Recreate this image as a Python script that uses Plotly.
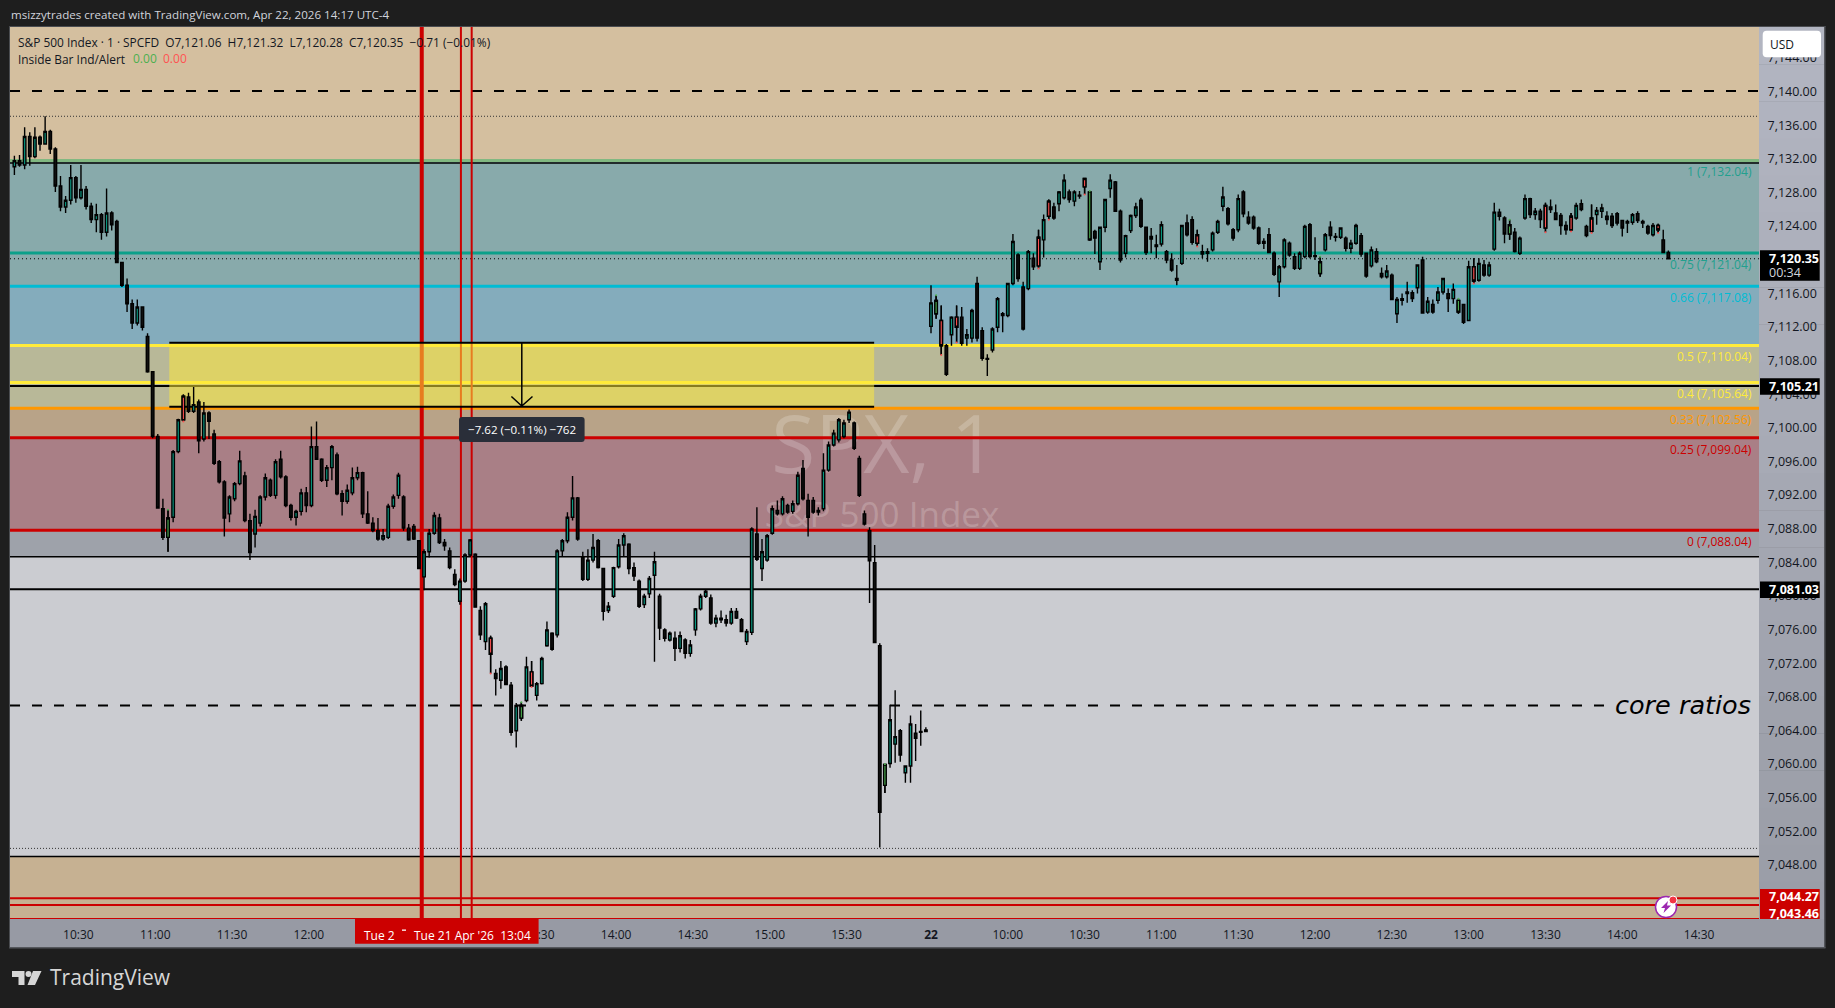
import plotly.graph_objects as go

# candle rows, one every 2 minutes, values in points above 7000
day1_idx = list(range(2, 360, 2))
day1_open = [
    131.3,132.0,131.5,134.9,132.5,134.8,134.0,135.5,133.4,129.0,
    126.5,127.3,130.0,127.6,128.6,126.6,125.0,125.6,123.5,125.8,
    124.8,119.9,117.2,115.0,112.7,114.6,111.1,106.9,99.2,90.6,
    87.2,89.6,97.4,101.2,103.9,102.2,103.3,98.9,102.0,99.5,
    96.2,93.8,90.0,91.8,93.6,94.5,89.2,87.6,88.9,92.0,
    94.0,92.2,96.5,94.4,91.0,89.6,90.3,92.5,91.0,98.0,
    96.5,94.0,95.5,97.0,92.4,91.5,92.5,94.3,94.9,90.0,
    88.9,88.0,87.0,87.2,90.9,92.2,92.0,88.3,88.5,86.8,
    82.5,85.5,87.7,89.5,86.6,85.6,82.8,79.6,82.0,85.1,
    85.2,78.5,74.8,75.2,71.0,70.2,71.8,69.6,64.2,65.7,
    67.8,71.2,68.4,69.8,74.3,75.8,75.6,85.6,86.8,89.6,
    91.9,84.8,82.2,84.5,86.8,83.5,78.5,80.2,83.7,86.3,
    86.4,83.6,82.0,79.2,80.5,82.7,80.2,76.2,75.0,75.2,
    74.0,75.0,73.4,76.2,78.7,80.2,80.0,77.0,77.6,77.4,
    77.0,78.4,77.4,74.8,75.9,87.6,83.5,84.5,87.7,90.4,
    90.0,91.0,90.3,91.2,95.4,91.6,91.6,90.2,90.6,95.2,
    98.2,98.8,99.2,101.2,100.8,96.6,90.0,88.0,84.2,74.3,
    57.7,60.3,62.6,64.2,59.2,60.0,63.9,64.0,64.3]
day1_high = [
    132.6,132.7,136.0,135.4,136.0,135.0,137.3,135.7,133.6,130.2,
    127.8,131.5,130.2,131.5,129.0,127.0,126.9,125.8,128.7,126.0,
    125.0,120.0,118.0,115.5,115.5,114.7,111.5,107.0,99.5,91.8,
    90.5,97.6,101.3,104.2,104.4,105.1,103.6,103.3,102.2,100.0,
    96.4,94.0,92.2,93.8,97.5,95.0,90.0,90.5,92.2,94.8,
    94.2,96.5,97.5,94.6,91.2,90.5,93.0,93.2,100.4,101.0,
    96.6,95.8,98.2,97.3,92.8,93.5,95.5,95.6,95.0,92.7,
    89.6,89.5,88.2,91.2,92.3,94.9,92.2,88.8,88.8,86.8,
    85.8,88.2,90.2,90.0,87.0,86.0,83.4,82.3,85.3,87.0,
    85.3,79.0,79.5,75.5,71.5,72.5,72.0,70.0,67.5,67.6,
    73.0,72.5,70.0,73.0,77.2,75.9,85.8,87.0,90.2,94.5,
    92.0,85.5,85.8,87.6,87.0,83.6,79.5,83.7,87.0,87.7,
    86.5,84.2,82.2,80.5,82.6,85.5,80.5,76.4,76.0,76.0,
    76.0,75.2,75.0,78.8,80.5,81.0,80.4,78.0,78.5,78.0,
    78.8,78.8,77.6,76.3,88.4,90.8,87.0,87.6,91.0,91.6,
    92.1,91.2,91.6,95.0,96.4,92.4,92.0,90.8,97.2,98.6,
    100.0,101.4,101.2,102.4,101.0,96.9,90.4,88.4,86.3,74.6,
    60.2,67.3,69.0,64.4,60.0,66.0,65.0,66.6,64.6]
day1_low = [
    130.3,131.3,131.0,131.4,132.3,133.2,133.9,132.8,128.3,126.0,
    125.8,126.8,127.0,127.4,126.2,124.6,123.5,122.6,123.0,123.7,
    119.8,117.0,114.0,112.0,112.4,111.8,106.8,99.0,90.6,86.9,
    85.5,89.0,97.2,101.0,102.0,102.0,97.2,98.6,98.9,95.8,
    93.6,87.3,89.0,91.5,93.4,89.0,84.5,86.0,88.5,91.6,
    92.0,91.8,94.2,90.8,89.2,88.6,89.8,90.2,90.8,96.4,
    93.8,93.2,94.0,92.2,89.8,91.2,92.2,94.0,89.5,88.8,
    87.8,86.8,86.8,87.0,90.6,91.8,88.0,86.8,86.9,83.4,
    80.9,84.8,87.5,86.4,85.6,83.4,81.4,79.2,81.8,84.9,
    78.9,75.0,73.8,71.0,68.4,69.2,69.6,63.6,62.2,65.4,
    67.6,69.4,67.8,69.7,74.2,73.7,75.3,85.0,86.5,89.2,
    86.8,82.0,82.0,84.2,83.5,77.3,78.2,80.0,83.5,85.0,
    82.8,82.0,78.8,78.8,80.0,72.4,75.0,74.8,74.8,72.5,
    73.5,72.8,73.0,75.5,78.5,80.0,76.8,76.5,77.0,76.6,
    76.8,77.5,76.0,74.4,75.6,84.4,82.0,84.3,87.5,89.8,
    89.8,90.0,90.0,91.0,91.6,87.3,90.0,89.8,90.3,95.0,
    98.0,98.5,99.0,100.8,97.6,92.0,88.6,79.4,74.6,50.3,
    56.8,59.8,60.4,60.5,58.0,58.0,60.6,62.4,64.1]
day1_close = [
    132.0,131.5,134.9,132.5,134.8,134.0,135.5,133.4,129.0,126.5,
    127.3,130.0,127.6,128.6,126.6,125.0,125.6,123.5,125.8,124.4,
    119.9,117.2,115.0,112.7,114.6,112.2,106.9,99.2,90.7,87.2,
    89.5,97.4,101.2,104.0,102.2,103.0,98.7,102.0,101.0,96.0,
    93.8,89.5,92.0,93.6,96.3,89.2,85.4,89.7,92.0,94.3,
    92.2,96.2,94.4,91.0,89.6,90.3,92.5,91.0,98.0,96.5,
    94.0,95.5,98.0,92.4,91.5,92.8,94.3,94.9,90.0,88.9,
    88.0,87.0,87.4,90.9,92.0,94.6,88.3,86.9,87.0,83.5,
    85.5,87.7,89.8,86.6,86.2,83.6,81.6,82.0,85.1,86.9,
    78.9,75.6,79.3,73.3,70.4,71.6,69.7,64.0,67.2,67.2,
    71.8,69.5,69.8,72.8,76.2,73.9,85.6,86.8,89.6,91.9,
    87.0,82.2,84.5,86.0,83.6,78.4,79.0,83.6,86.3,87.4,
    83.5,82.6,79.0,80.2,82.3,84.3,76.4,75.2,75.8,74.0,
    75.5,73.4,74.4,78.7,80.2,80.8,77.0,77.6,77.4,77.0,
    78.4,77.6,76.0,76.0,88.2,84.6,85.5,87.4,90.6,90.0,
    91.8,90.2,91.2,94.6,91.8,89.6,90.2,90.4,95.2,98.2,
    99.6,101.2,100.8,102.1,97.8,92.2,88.8,84.4,74.7,54.5,
    60.2,65.5,63.5,61.3,60.0,65.0,63.3,64.1,64.1]

day2_idx = list(range(360, 650, 2))
day2_open = [
    112.3,113.8,113.0,110.0,111.3,113.4,113.4,110.9,110.9,117.4,
    111.8,108.5,109.5,112.2,113.8,113.6,117.4,120.8,117.0,116.8,
    120.4,119.5,122.6,125.4,126.5,126.9,127.6,128.3,127.2,127.9,
    128.9,128.3,123.6,120.0,124.1,128.7,129.5,126.0,121.0,123.7,
    125.5,127.3,124.1,123.0,122.0,122.1,121.2,120.2,117.8,119.8,
    124.6,125.0,122.2,121.2,121.2,121.4,123.5,126.6,126.3,123.8,
    123.8,128.3,125.3,125.3,124.0,122.4,123.2,121.0,117.6,119.4,
    122.2,120.6,119.2,120.6,124.4,120.6,118.6,121.4,124.1,123.0,
    122.9,122.8,121.6,122.2,123.1,121.0,119.5,121.2,118.6,118.2,
    118.4,113.8,115.4,116.2,116.3,116.9,120.2,114.0,114.9,115.4,
    116.4,116.2,115.6,115.4,114.9,113.0,119.4,117.8,119.6,118.4,
    121.5,125.9,125.2,123.3,123.5,121.0,125.2,127.5,125.6,126.0,
    124.0,126.5,125.8,125.5,124.3,123.8,125.2,126.9,124.2,123.6,
    125.6,126.0,125.4,125.4,125.7,124.9,124.6,124.7,125.7,124.6,
    124.2,123.2,124.3,122.6,121.1]
day2_high = [
    117.2,116.0,114.8,110.2,113.5,114.8,114.6,112.0,114.4,118.2,
    112.2,109.0,112.2,115.8,114.0,117.4,123.3,121.0,117.6,121.4,
    121.0,123.8,125.6,127.4,127.0,128.4,130.4,128.6,128.5,128.4,
    130.0,128.4,123.8,124.2,127.5,130.4,129.6,126.2,123.2,125.6,
    127.0,127.6,124.2,124.0,123.2,124.8,121.4,121.0,119.6,124.4,
    125.6,125.4,123.8,122.0,121.6,123.6,125.0,128.9,126.5,124.0,
    128.0,128.5,126.0,125.5,124.2,122.8,124.0,121.2,119.6,122.8,
    122.4,121.0,121.2,124.4,124.6,122.9,120.6,123.4,124.8,123.4,
    124.1,123.0,122.6,124.5,123.4,121.0,121.8,121.6,119.3,119.6,
    118.6,115.8,116.2,117.6,116.6,119.6,120.6,115.8,115.5,117.0,
    118.1,116.8,117.4,115.6,115.0,120.1,120.4,120.4,120.2,120.0,
    127.0,126.3,125.4,125.0,124.0,123.0,128.0,127.6,126.4,126.3,
    127.0,127.4,126.8,125.8,124.8,125.8,127.0,127.4,124.4,126.8,
    126.5,126.9,126.0,125.8,125.9,125.0,125.0,125.8,126.0,125.0,
    124.4,124.6,124.5,123.8,121.32]
day2_low = [
    111.5,113.2,108.9,106.4,110.0,110.4,110.0,110.0,110.4,110.5,
    108.2,106.4,109.2,111.6,111.6,113.4,117.2,117.6,111.8,116.6,
    119.0,119.2,120.5,125.0,125.0,126.0,127.4,127.0,126.6,127.5,
    128.0,122.5,120.9,119.0,123.5,127.6,125.9,119.9,120.5,123.4,
    125.2,124.0,120.8,121.0,120.4,121.8,119.8,118.8,117.2,119.6,
    123.0,122.0,121.8,120.4,120.0,121.2,123.3,126.0,124.3,122.5,
    123.5,125.3,124.4,123.8,122.0,121.5,121.0,118.3,115.8,119.2,
    120.6,119.0,119.0,120.4,120.4,120.2,118.2,121.2,122.6,122.4,
    122.7,121.2,121.0,122.0,120.6,118.1,119.3,119.8,118.0,118.0,
    115.4,112.7,114.8,115.1,115.2,116.2,113.9,113.8,113.8,115.0,
    116.1,114.0,115.0,113.8,112.6,113.0,117.4,117.6,118.2,118.2,
    121.3,124.9,122.2,122.6,121.1,120.8,125.0,125.2,125.0,124.0,
    123.5,125.8,125.0,123.2,123.2,123.6,125.0,126.0,122.9,123.4,
    124.4,125.2,124.4,124.0,124.3,123.0,123.4,124.4,124.6,124.0,
    123.2,123.0,123.4,121.0,120.28]
day2_close = [
    115.1,115.4,110.0,106.6,113.4,112.2,110.3,111.3,114.2,110.9,
    108.5,108.4,112.0,115.6,113.6,117.4,122.4,118.0,112.0,121.2,
    119.4,122.9,125.0,127.2,125.2,128.3,129.7,127.4,128.3,127.8,
    129.9,122.6,122.8,124.1,127.4,129.7,126.0,120.2,123.1,125.5,
    126.5,124.2,121.1,122.7,121.8,124.4,120.2,119.0,118.0,124.3,
    123.2,122.3,123.2,120.9,121.0,123.4,124.8,127.7,124.5,122.8,
    127.5,125.7,124.6,124.0,122.2,122.2,121.1,118.5,119.4,122.6,
    120.8,119.2,121.0,124.2,120.6,120.7,120.0,123.2,123.1,122.9,
    124.0,121.6,122.2,124.3,120.9,118.3,121.4,120.0,118.2,118.9,
    115.5,115.5,115.6,116.4,115.6,119.6,113.9,115.3,114.0,116.4,
    118.0,115.6,116.7,114.0,112.8,119.4,117.7,119.8,118.4,119.6,
    125.9,125.4,123.3,124.4,121.2,122.8,127.5,125.6,126.0,125.0,
    126.7,126.2,125.0,124.3,123.8,125.4,126.7,126.2,123.1,125.2,
    126.1,126.4,125.0,124.3,124.6,124.0,124.8,125.6,124.9,124.8,
    123.4,124.3,123.8,121.1,120.35]

# inside bars the indicator paints
red_bars = [68, 188, 204, 364, 370, 402, 406, 420, 464, 572, 600, 610, 618, 644]
green_bars = [62, 200, 342, 362, 422, 512, 566, 586]

# price levels
zone_edges = [7147.92, 7132.04, 7117.08, 7110.04, 7102.56, 7099.04, 7088.04, 7084.9, 7049.25, 7041.8]
zone_colors = ['#d4bf9f', '#88aaab', '#84acbc', '#b8b898', '#b8a388', '#a97f86', '#9ea2aa', '#cbccd1', '#c6b192']
fib_prices = [7132.04, 7121.04, 7117.08, 7110.04, 7105.64, 7102.56, 7099.04, 7088.04]
fib_colors = ['#81b881', '#0ba08a', '#00bcd4', '#ffeb3b', '#ffeb3b', '#ff9800', '#cc0000', '#cc0000']
fib_ratios = ['1', '0.75', '0.66', '0.5', '0.4', '0.33', '0.25', '0']
fib_text_colors = ['#22a08e', '#22a08e', '#00bcd4', '#ffeb3b', '#ffeb3b', '#ff9800', '#cc0000', '#cc0000']
last_price = 7120.35
top_dash = 7140.3
top_dot = 7137.3
core_dash = 7067.2
low_dot = 7050.2
black_thin = [7131.74, 7084.9, 7049.25]
black_thick = [7105.21, 7081.03]
red_levels = [7044.27, 7043.46]
box_top, box_bottom = 7110.36, 7102.74
box_start, box_end = 62.5, 337.8
red_times = [161.1, 176.4, 180.6]

# 7,120 and 7,044 sit fully under the price flags, 12:30 and 13:00 under the time flag
price_ticks = [7048, 7052, 7056, 7060, 7064, 7068, 7072, 7076, 7080, 7084, 7088, 7092, 7096, 7100,
               7104, 7108, 7112, 7116, 7124, 7128, 7132, 7136, 7140, 7144]
time_ticks = [27, 57, 87, 117, 207, 237, 267, 297, 327, 360, 390, 420, 450, 480, 510, 540, 570, 600, 630, 660]
time_labels = ['10:30', '11:00', '11:30', '12:00', '13:30', '14:00', '14:30', '15:00', '15:30', '<b>22</b>',
               '10:00', '10:30', '11:00', '11:30', '12:00', '12:30', '13:00', '13:30', '14:00', '14:30']

FONT = 'Open Sans'
W, H = 1835, 1008
L, R, T, B = 10, 1759, 27, 919


def px(x):
    return (x - L) / (R - L)


def py(y):
    return 1 - (y - T) / (B - T)


fig = go.Figure()
bar_idx = day1_idx + day2_idx
opens = [7000 + v for v in day1_open + day2_open]
highs = [7000 + v for v in day1_high + day2_high]
lows = [7000 + v for v in day1_low + day2_low]
closes = [7000 + v for v in day1_close + day2_close]
assert len(bar_idx) == len(opens) == len(highs) == len(lows) == len(closes)


def candles(rows, up, down):
    fig.add_candlestick(x=[bar_idx[i] for i in rows], open=[opens[i] for i in rows], high=[highs[i] for i in rows],
                        low=[lows[i] for i in rows], close=[closes[i] for i in rows],
                        increasing=dict(fillcolor=up, line=dict(color='#000000', width=1.4)),
                        decreasing=dict(fillcolor=down, line=dict(color='#000000', width=1.4)),
                        whiskerwidth=0, hoverinfo='skip', showlegend=False)


candles(range(len(bar_idx)), '#089981', '#111111')
candles([bar_idx.index(b) for b in red_bars], '#ff5252', '#ff5252')
candles([bar_idx.index(b) for b in green_bars], '#4caf50', '#4caf50')

# tiny indicator dots
fig.add_scatter(x=red_bars, y=[lows[bar_idx.index(b)] for b in red_bars], mode='markers',
                marker=dict(color='#ff5252', size=2), hoverinfo='skip', showlegend=False)
fig.add_scatter(x=green_bars, y=[highs[bar_idx.index(b)] for b in green_bars], mode='markers',
                marker=dict(color='#4caf50', size=2), hoverinfo='skip', showlegend=False)


def hline(price, color, width, dash='solid', x1=1.0):
    fig.add_shape(type='line', xref='paper', yref='y', x0=0, x1=x1, y0=price, y1=price, layer='below',
                  line=dict(color=color, width=width, dash=dash))


def panel(x0, y0, x1, y1, color, layer='below'):
    fig.add_shape(type='rect', xref='paper', yref='paper', x0=px(x0), x1=px(x1), y0=py(y0), y1=py(y1),
                  fillcolor=color, line_width=0, layer=layer)


def round_box(x0, y0, x1, y1, color, r=3):
    path = (f'M {px(x0 + r)} {py(y0)} L {px(x1 - r)} {py(y0)} Q {px(x1)} {py(y0)} {px(x1)} {py(y0 + r)} '
            f'L {px(x1)} {py(y1 - r)} Q {px(x1)} {py(y1)} {px(x1 - r)} {py(y1)} L {px(x0 + r)} {py(y1)} '
            f'Q {px(x0)} {py(y1)} {px(x0)} {py(y1 - r)} L {px(x0)} {py(y0 + r)} Q {px(x0)} {py(y0)} {px(x0 + r)} {py(y0)} Z')
    fig.add_shape(type='path', xref='paper', yref='paper', path=path, fillcolor=color, line_width=0, layer='above')


def text(x, y, s, size=12, color='#131722', anchor='left', **kw):
    fig.add_annotation(xref='paper', yref='paper', x=px(x), y=py(y), text=s, showarrow=False, xanchor=anchor,
                       yanchor='middle', font=dict(family=kw.pop('family', FONT), size=size, color=color), **kw)


# zones
for top, bottom, color in zip(zone_edges[:-1], zone_edges[1:], zone_colors):
    fig.add_shape(type='rect', xref='paper', yref='y', x0=0, x1=1, y0=bottom, y1=top, fillcolor=color, line_width=0, layer='below')

# watermark
fig.add_shape(type='rect', xref='paper', yref='paper', x0=px(744), x1=px(1024), y0=py(402), y1=py(492), line_width=0,
              fillcolor='rgba(0,0,0,0)', layer='below',
              label=dict(text='SPX, 1', font=dict(family=FONT, size=80, color='rgba(255,255,255,0.2)'), textposition='middle center'))
fig.add_shape(type='rect', xref='paper', yref='paper', x0=px(742), x1=px(1022), y0=py(495), y1=py(535), line_width=0,
              fillcolor='rgba(0,0,0,0)', layer='below',
              label=dict(text='S&P 500 Index', font=dict(family=FONT, size=35, color='rgba(255,255,255,0.2)'), textposition='middle center'))

# level lines
for price, color in zip(fib_prices, fib_colors):
    hline(price, color, 3)
for price in black_thin:
    hline(price, '#000000', 1.5)
for price in black_thick:
    hline(price, '#000000', 2)
hline(top_dash, '#000000', 2, '10px,12px')
hline(core_dash, '#000000', 2, '10px,12px', x1=px(1604))
hline(top_dot, '#333333', 1, '1px,2px')
hline(low_dot, '#333333', 1, '1px,2px')
hline(last_price, '#000000', 1.2, '1px,3px')
for price in red_levels:
    hline(price, '#cc0000', 2)
hline(zone_edges[-1], '#cc0000', 2)

# time markers
for t, width in zip(red_times, [4, 2, 2]):
    fig.add_shape(type='line', xref='x', yref='paper', x0=t, x1=t, y0=0, y1=1, layer='below', line=dict(color='#cc0000', width=width))

# measured box
fig.add_shape(type='rect', xref='x', yref='y', x0=box_start, x1=box_end, y0=box_bottom, y1=box_top, layer='below',
              fillcolor='rgba(255,235,59,0.53)', line_width=0)
for price in [box_top, box_bottom]:
    fig.add_shape(type='line', xref='x', yref='y', x0=box_start, x1=box_end, y0=price, y1=price, layer='below',
                  line=dict(color='#000000', width=2))
fig.add_shape(type='path', xref='paper', yref='paper', layer='above', line=dict(color='#000000', width=1.5),
              path=f'M {px(521.8)} {py(343)} L {px(521.8)} {py(406)} M {px(511.4)} {py(396.5)} L {px(521.8)} {py(406)} L {px(532.5)} {py(396.5)}')
round_box(459, 417, 584.6, 442, '#2a2e39')
text(521.8, 429.5, '−7.62 (−0.11%) −762', size=11.6, color='#ffffff', anchor='center')

# price scale and time scale
steps = 24
for k in range(steps):
    y0 = T + (B - T) * k / steps
    y1 = T + (B - T) * (k + 1) / steps
    c0, c1, c2 = 178 - 26 * k // steps, 181 - 26 * k // steps, 193 - 28 * k // steps
    panel(R, y0, 1824, y1 + 0.5, f'rgb({c0},{c1},{c2})')
panel(L, B, 1824, 947, '#979aa4')
panel(1824, T - 1, 1825.5, 948, '#55575c')
panel(L, 947, 1825.5, 948.5, '#55575c')
panel(L, T - 1, 1825.5, T, '#4a4c50')
panel(L - 1, T - 1, L, 948.5, '#4a4c50')

# boxes that sit on the scales
round_box(1762.7, 30.7, 1821, 57.3, '#ffffff', r=4)
text(1768, 44.5, 'USD', size=12)
panel(1760, 250.3, 1819.7, 280.7, '#000000', 'above')
text(1767, 258, '<b>7,120.35</b>', size=12.5, color='#ffffff')
text(1767, 272, '00:34', size=12.5, color='#d1d4dc')
panel(1760, 378.3, 1819.7, 394.7, '#000000', 'above')
text(1767, 386, '<b>7,105.21</b>', size=12.5, color='#ffffff')
panel(1760, 581.5, 1819.7, 598, '#000000', 'above')
text(1767, 589, '<b>7,081.03</b>', size=12.5, color='#ffffff')
panel(1760, 889, 1819.7, 919, '#cc0000', 'above')
text(1767, 896.7, '<b>7,044.27</b>', size=12.5, color='#ffffff')
text(1767, 913.5, '<b>7,043.46</b>', size=12.5, color='#ffffff')

# crosshair time labels
panel(355, 919, 538.6, 943.7, '#cc0000', 'above')
text(379.6, 935, 'Tue 2', color='#ffffff', anchor='center')
panel(402, 929.5, 406, 930.8, '#ffffff', 'above')
text(472.5, 935, "Tue 21 Apr '26  13:04", color='#ffffff', anchor='center')

# fib labels
for price, ratio, color in zip(fib_prices, fib_ratios, fib_text_colors):
    y = T + (zone_edges[0] - price) * (B - T) / (zone_edges[0] - zone_edges[-1])
    text(1754, y + 11.5, f'{ratio} ({price:,.2f})', color=color, anchor='right')

text(1753, 705, '<i>core ratios</i>', size=25.5, color='#000000', anchor='right', family='DejaVu Sans')

# alert badge
fig.add_shape(type='circle', xref='paper', yref='paper', x0=px(1655.5), x1=px(1676.5), y0=py(917.5), y1=py(896.5), layer='above',
              fillcolor='#ffffff', line=dict(color='#9c27b0', width=1.5))
fig.add_shape(type='path', xref='paper', yref='paper', layer='above', fillcolor='#9c27b0', line_width=0,
              path=f'M {px(1668)} {py(901)} L {px(1661)} {py(908)} L {px(1665)} {py(908)} L {px(1663.5)} {py(913)} L {px(1671)} {py(905.5)} L {px(1667)} {py(905.5)} Z')
fig.add_shape(type='circle', xref='paper', yref='paper', x0=px(1669), x1=px(1677), y0=py(904), y1=py(896), layer='above',
              fillcolor='#f23645', line=dict(color='#ffffff', width=1))

# header, legend, logo
text(9, 15, 'msizzytrades created with TradingView.com, Apr 22, 2026 14:17 UTC-4', size=11.6, color='#d1d4dc')
text(16, 41.7, 'S&P 500 Index · 1 · SPCFD  O7,121.06  H7,121.32  L7,120.28  C7,120.35  −0.71 (−0.01%)', size=11.9)
text(16, 58.7, 'Inside Bar Ind/Alert', size=11.9)
text(130.7, 58.7, '0.00', size=12, color='#4caf50')
text(161, 58.7, '0.00', size=12, color='#ff5252')

fig.add_shape(type='path', xref='paper', yref='paper', layer='above', fillcolor='#d6d6d6', line_width=0,
              path=f'M {px(12)} {py(971)} L {px(24.5)} {py(971)} L {px(24.5)} {py(985)} L {px(18.5)} {py(985)} L {px(18.5)} {py(977)} L {px(12)} {py(977)} Z '
                   f'M {px(33)} {py(971)} L {px(41.5)} {py(971)} L {px(35)} {py(985)} L {px(27.5)} {py(985)} Z')
fig.add_shape(type='circle', xref='paper', yref='paper', x0=px(25.5), x1=px(31.5), y0=py(977), y1=py(971), layer='above',
              fillcolor='#d6d6d6', line_width=0)
text(48, 977, 'TradingView', size=21, color='#d6d6d6')

fig.update_layout(
    width=W, height=H, autosize=False,
    margin=dict(l=L, r=W - R, t=T, b=H - B, pad=0),
    paper_bgcolor='#1e1e1e', plot_bgcolor='rgba(0,0,0,0)',
    font=dict(family=FONT, size=12, color='#131722'),
    showlegend=False,
    xaxis=dict(range=[0.28, 683.4], rangeslider=dict(visible=False), showgrid=False, zeroline=False, showline=False,
               tickmode='array', tickvals=time_ticks, ticktext=time_labels, ticks='outside', ticklen=5,
               tickcolor='rgba(0,0,0,0)', tickangle=0, tickfont=dict(family=FONT, size=12, color='#131722')),
    yaxis=dict(range=[zone_edges[-1], zone_edges[0]], side='right', showgrid=False, zeroline=False, showline=False,
               tickmode='array', tickvals=price_ticks, ticktext=[f'{p:,}.00' for p in price_ticks], ticks='outside', ticklen=5,
               ticklabelshift=-2, tickcolor='rgba(0,0,0,0)', tickfont=dict(family=FONT, size=12.5, color='#131722')),
)

fig.write_html("out.html", config=dict(displayModeBar=False),
               post_script="document.body.style.margin='0';document.documentElement.style.background='#1e1e1e';document.body.style.overflow='hidden';")
